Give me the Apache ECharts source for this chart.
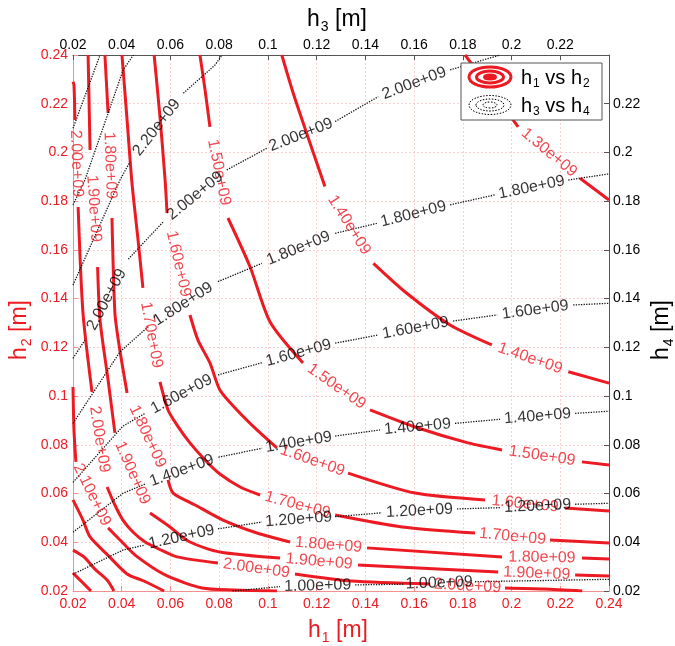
<!DOCTYPE html>
<html>
<head>
<meta charset="utf-8">
<script src="https://cdn.jsdelivr.net/npm/echarts@6/dist/echarts.min.js"></script>
<style>
html, body { margin: 0; padding: 0; background: #fff; }
#chart { width: 675px; height: 646px; }
</style>
</head>
<body>
<div id="chart"></div>
<script>
var RED = '#ec1a22'
var INK = '#000'
var FONT = '"Liberation Sans", Arial, Helvetica, sans-serif'

// axis ticks, same for all four axes
var ticks = [0.02, 0.04, 0.06, 0.08, 0.1, 0.12, 0.14, 0.16, 0.18, 0.2, 0.22, 0.24]

// h1 vs h2 contours (red); null = gap where the label sits
var red_130 = [[0.1809, 0.24], [0.1932, 0.2236], [0.2027, 0.2105], null, [0.2281, 0.1894], [0.24, 0.1805]]
var red_140 = [[0.1057, 0.24], [0.1104, 0.2243], [0.1159, 0.2079], [0.1234, 0.1860], null,
    [0.1433, 0.1545], [0.1570, 0.1422], [0.1748, 0.1292], [0.1919, 0.1210], null,
    [0.2233, 0.1100], [0.24, 0.1053]]
var red_150 = [[0.0721, 0.24], [0.0742, 0.2257], [0.0762, 0.2105], null,
    [0.0836, 0.1731], [0.0927, 0.1530], [0.1009, 0.1304], [0.1144, 0.1136], null,
    [0.1419, 0.0943], [0.1604, 0.0873], [0.1821, 0.0808], [0.1961, 0.0779], null,
    [0.2289, 0.0730], [0.24, 0.0717]]
var red_160 = [[0.0533, 0.24], [0.0557, 0.2146], [0.0578, 0.1887], [0.0586, 0.1752], null,
    [0.0680, 0.1333], [0.0713, 0.1230], [0.0762, 0.1136], [0.0803, 0.1025], [0.0873, 0.0943],
    [0.0955, 0.0861], [0.1037, 0.0787], null,
    [0.1329, 0.0684], [0.1604, 0.0602], [0.1891, 0.0574], null,
    [0.2220, 0.0541], [0.24, 0.0528]]
var red_170 = [[0.0401, 0.24], [0.0422, 0.2133], [0.0442, 0.1875], [0.0467, 0.1641], [0.0487, 0.1444], null,
    [0.0557, 0.1058], [0.0590, 0.0943], [0.0627, 0.0881], [0.0680, 0.0808], [0.0742, 0.0738],
    [0.0803, 0.0680], [0.0886, 0.0627], [0.0968, 0.0594], null,
    [0.1276, 0.0512], [0.1551, 0.0463], [0.1850, 0.0438], null,
    [0.2158, 0.0409], [0.24, 0.0397]]
var red_180 = [[0.0331, 0.24], [0.0344, 0.2162], null,
    [0.0360, 0.1731], [0.0372, 0.1341], [0.0389, 0.1210], [0.0422, 0.1013], null,
    [0.0590, 0.0656], [0.0611, 0.0602], [0.0701, 0.0553], [0.0816, 0.0491], [0.0955, 0.0438],
    [0.1091, 0.0401], null,
    [0.1407, 0.0377], [0.1961, 0.0340], null,
    [0.2289, 0.0335], [0.24, 0.0331]]
var red_190 = [[0.0262, 0.24], [0.0270, 0.2010], null,
    [0.0301, 0.1530], [0.0311, 0.1312], [0.0344, 0.1066], [0.0372, 0.0849], null,
    [0.0516, 0.0520], [0.0598, 0.0463], [0.0680, 0.0401], [0.0803, 0.0360], [0.1050, 0.0335], null,
    [0.1370, 0.0307], [0.1945, 0.0278], null,
    [0.2261, 0.0266], [0.24, 0.0262]]
var red_200 = [[0.02, 0.229], [0.0204, 0.2277], [0.0208, 0.2133], null,
    [0.0221, 0.1776], [0.0241, 0.1341], [0.0278, 0.1017], null,
    [0.0340, 0.0627], [0.0372, 0.0553], [0.0405, 0.0491], [0.0446, 0.0442], [0.0496, 0.0401],
    [0.0553, 0.0372], [0.0627, 0.0340], [0.0795, 0.0315], null,
    [0.1111, 0.0270], [0.1341, 0.0241], [0.1666, 0.0229], null,
    [0.1973, 0.0212], [0.2133, 0.0208], [0.229, 0.02]]
var red_210 = [[0.02, 0.1037], [0.0204, 0.0861], [0.0212, 0.0730], null,
    [0.0344, 0.0459], [0.0401, 0.0401], [0.0459, 0.0344], [0.0578, 0.0266], [0.0730, 0.0212],
    [0.0861, 0.0204], [0.1037, 0.02]]
var red_220 = [[0.02, 0.0574], [0.0241, 0.0491], [0.027, 0.0422], [0.0345, 0.0345], [0.0422, 0.027], [0.0491, 0.0241], [0.0574, 0.02]]
var red_230 = [[0.02, 0.0368], [0.0245, 0.034], [0.029, 0.029], [0.034, 0.0245], [0.0368, 0.02]]
var red_240 = [[0.02, 0.0274], [0.0237, 0.0237], [0.0274, 0.02]]

var redLevels = ['1.30e+09', '1.40e+09', '1.50e+09', '1.60e+09', '1.70e+09', '1.80e+09', '1.90e+09', '2.00e+09', '2.10e+09', '2.20e+09', '2.30e+09', '2.40e+09']
var redLines = [red_130, red_140, red_150, red_160, red_170, red_180, red_190, red_200, red_210, red_220, red_230, red_240]

// h3 vs h4 contours (black dotted)
var blk_100 = [[0.0855, 0.02], [0.1050, 0.0218], null, [0.1358, 0.0225], [0.1556, 0.0228], null, [0.1850, 0.0238], [0.24, 0.0248]]
var blk_120 = [[0.02, 0.0269], [0.0405, 0.0368], [0.0496, 0.0389], null,
    [0.0795, 0.0455], [0.0976, 0.0483], null, [0.1276, 0.0505], [0.1468, 0.0521], null,
    [0.1776, 0.0537], [0.1953, 0.0542], null, [0.2261, 0.0556], [0.24, 0.0560]]
var blk_140 = [[0.02, 0.0441], [0.0405, 0.0601], [0.0496, 0.0639], null,
    [0.0797, 0.0749], [0.0976, 0.0786], null, [0.1276, 0.0836], [0.1460, 0.0861], null,
    [0.1768, 0.0888], [0.1953, 0.0905], null, [0.2261, 0.0929], [0.24, 0.0938]]
var blk_160 = [[0.02, 0.0646], [0.0405, 0.0877], [0.0496, 0.0929], null,
    [0.0795, 0.1087], [0.0976, 0.1137], null, [0.1276, 0.1217], [0.1452, 0.1251], null,
    [0.1760, 0.1308], [0.1941, 0.1333], null, [0.2253, 0.1374], [0.24, 0.1381]]
var blk_180 = [[0.02, 0.0888], [0.0393, 0.1182], [0.0509, 0.1285], null,
    [0.0795, 0.1470], [0.0975, 0.1545], null, [0.1276, 0.1668], [0.1447, 0.1709], null,
    [0.1748, 0.1785], [0.1932, 0.1826], null, [0.2233, 0.1887], [0.24, 0.1912]]
var blk_200 = [[0.02, 0.1155], [0.0249, 0.1230], null,
    [0.0427, 0.1562], [0.0571, 0.1716], null, [0.0831, 0.1928], [0.0995, 0.2017], null,
    [0.1276, 0.2127], [0.1453, 0.2229], null, [0.1748, 0.2339], [0.1953, 0.24]]
var blk_220 = [[0.02, 0.1456], [0.0393, 0.1887], [0.0434, 0.1962], null, [0.0653, 0.2243], [0.0783, 0.2359], [0.0812, 0.24]]
var blk_240 = [[0.02, 0.1785], [0.0249, 0.1887], [0.0406, 0.2339], [0.0448, 0.24]]
var blk_260 = [[0.02, 0.2099], [0.0311, 0.24]]

var blkLevels = ['1.00e+09', '1.20e+09', '1.40e+09', '1.60e+09', '1.80e+09', '2.00e+09', '2.20e+09', '2.40e+09', '2.60e+09']
var blkLines = [blk_100, blk_120, blk_140, blk_160, blk_180, blk_200, blk_220, blk_240, blk_260]

function fmtTick(v) {
    return String(parseFloat(v.toFixed(2)))
}

function lineSeries(pts, color, width, type, axis, smooth) {
    return {
        type: 'line',
        xAxisIndex: axis,
        yAxisIndex: axis,
        data: pts.map(function (p) { return p ? p : ['-', '-'] }),
        showSymbol: false,
        symbol: 'none',
        smooth: smooth,
        connectNulls: false,
        silent: true,
        z: 3,
        lineStyle: { color: color, width: width, type: type }
    }
}

// one rotated label in the middle of every gap of a contour
function labelSeries(pts, text, color, axis) {
    var data = []
    for (var i = 1; i < pts.length - 1; i++) {
        if (pts[i] !== null) continue
        var a = pts[i - 1], b = pts[i + 1]
        var ang = Math.atan2(b[1] - a[1], b[0] - a[0]) * 180 / Math.PI
        if (ang > 90) ang -= 180
        if (ang < -90) ang += 180
        data.push({ value: [(a[0] + b[0]) / 2, (a[1] + b[1]) / 2], label: { rotate: ang } })
    }
    return {
        type: 'scatter',
        xAxisIndex: axis,
        yAxisIndex: axis,
        data: data,
        symbolSize: 1,
        itemStyle: { color: 'rgba(0,0,0,0)' },
        silent: true,
        z: 5,
        label: {
            show: true,
            position: 'inside',
            formatter: text,
            color: color,
            fontSize: 16,
            fontFamily: FONT
        }
    }
}

function makeAxis(pos, color, lineColor, grid, hideMax, margin) {
    return {
        type: 'value',
        position: pos,
        min: 0.02,
        max: 0.24,
        interval: 0.02,
        axisLine: { show: true, onZero: false, lineStyle: { color: lineColor, width: 1 } },
        axisTick: { show: true, inside: true, length: 5, lineStyle: { color: lineColor } },
        axisLabel: {
            color: color,
            fontSize: 14,
            fontFamily: FONT,
            margin: margin,
            showMaxLabel: !hideMax,
            formatter: function (v) { return (hideMax && v > 0.235) ? '' : fmtTick(v) }
        },
        splitLine: { show: grid, lineStyle: { color: '#f9cfcf', width: 1, type: [2, 2] } }
    }
}

var series = []
redLines.forEach(function (pts, k) {
    series.push(lineSeries(pts, RED, 3, 'solid', 0, 0.25))
    series.push(labelSeries(pts, redLevels[k], RED, 0))
})
blkLines.forEach(function (pts, k) {
    series.push(lineSeries(pts, '#111', 1.3, [1.3, 1.3], 1, false))
    series.push(labelSeries(pts, blkLevels[k], INK, 1))
})

function richName() {
    return {
        n: { fontSize: 23, fontFamily: FONT },
        s: { fontSize: 14, fontFamily: FONT, padding: [14, 0, 0, 1] }
    }
}

var legendRich = {
    n: { fontSize: 20, fontFamily: FONT },
    s: { fontSize: 12, fontFamily: FONT, padding: [12, 0, 0, 1] }
}

var graphics = [
    { type: 'text', x: 337, y: 20, z: 100, silent: true,
      style: { text: '{n|h}{s|3}{n| [m]}', rich: richName(), fill: INK, align: 'center', verticalAlign: 'middle' } },
    { type: 'text', x: 338, y: 631, z: 100, silent: true,
      style: { text: '{n|h}{s|1}{n| [m]}', rich: richName(), fill: RED, align: 'center', verticalAlign: 'middle' } },
    { type: 'text', x: 20, y: 330, rotation: Math.PI / 2, z: 100, silent: true,
      style: { text: '{n|h}{s|2}{n| [m]}', rich: richName(), fill: RED, align: 'center', verticalAlign: 'middle' } },
    { type: 'text', x: 662, y: 330, rotation: Math.PI / 2, z: 100, silent: true,
      style: { text: '{n|h}{s|4}{n| [m]}', rich: richName(), fill: INK, align: 'center', verticalAlign: 'middle' } },
    // legend box
    { type: 'rect', z: 100, silent: true, shape: { x: 461, y: 63, width: 141, height: 57 },
      style: { fill: '#fff', stroke: '#555', lineWidth: 1 } },
    { type: 'ellipse', z: 101, silent: true, shape: { cx: 490, cy: 77, rx: 21, ry: 10 }, style: { fill: 'none', stroke: RED, lineWidth: 3 } },
    { type: 'ellipse', z: 101, silent: true, shape: { cx: 490, cy: 77, rx: 13.5, ry: 6 }, style: { fill: 'none', stroke: RED, lineWidth: 3 } },
    { type: 'ellipse', z: 101, silent: true, shape: { cx: 490, cy: 77, rx: 6, ry: 2.5 }, style: { fill: RED, stroke: RED, lineWidth: 2 } },
    { type: 'ellipse', z: 101, silent: true, shape: { cx: 490, cy: 105, rx: 21, ry: 9.5 }, style: { fill: 'none', stroke: INK, lineWidth: 1, lineDash: [1.5, 1.5] } },
    { type: 'ellipse', z: 101, silent: true, shape: { cx: 490, cy: 105, rx: 14, ry: 6 }, style: { fill: 'none', stroke: INK, lineWidth: 1, lineDash: [1.5, 1.5] } },
    { type: 'ellipse', z: 101, silent: true, shape: { cx: 490, cy: 105, rx: 7, ry: 3 }, style: { fill: 'none', stroke: INK, lineWidth: 1, lineDash: [1.5, 1.5] } },
    { type: 'text', x: 521, y: 78, z: 101, silent: true,
      style: { text: '{n|h}{s|1}{n| vs h}{s|2}', rich: legendRich, fill: INK, align: 'left', verticalAlign: 'middle' } },
    { type: 'text', x: 521, y: 106, z: 101, silent: true,
      style: { text: '{n|h}{s|3}{n| vs h}{s|4}', rich: legendRich, fill: INK, align: 'left', verticalAlign: 'middle' } }
]

var chart = echarts.init(document.getElementById('chart'))
var option = {
    animation: false,
    backgroundColor: '#fff',
    grid: { left: 73, top: 55, width: 536, height: 536, containLabel: false },
    xAxis: [
        makeAxis('bottom', RED, '#f29090', true, false, 6),
        makeAxis('top', INK, '#555', false, true, 3)
    ],
    yAxis: [
        makeAxis('left', RED, '#f29090', true, false, 5),
        makeAxis('right', INK, '#555', false, true, 4)
    ],
    series: series,
    graphic: { elements: graphics }
}
chart.setOption(option)
</script>
</body>
</html>
